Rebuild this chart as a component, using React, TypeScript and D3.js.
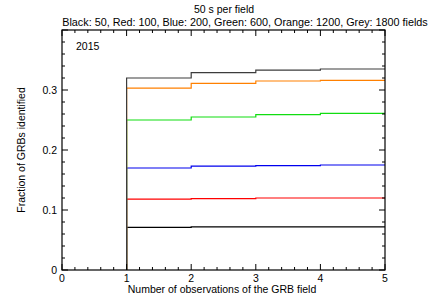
import * as d3 from "d3";

const steps = [1, 2, 3, 4, 5];
const blackVals = [0.071, 0.072, 0.072, 0.072];
const redVals = [0.118, 0.119, 0.120, 0.120];
const blueVals = [0.170, 0.173, 0.174, 0.175];
const greenVals = [0.250, 0.255, 0.259, 0.261];
const orangeVals = [0.303, 0.311, 0.315, 0.316];
const greyVals = [0.320, 0.329, 0.333, 0.335];

const series = [
    { name: "Black", values: blackVals, color: "#000000" },
    { name: "Red", values: redVals, color: "#ff0000" },
    { name: "Blue", values: blueVals, color: "#0000ee" },
    { name: "Green", values: greenVals, color: "#11dd11" },
    { name: "Orange", values: orangeVals, color: "#ff8000" },
    { name: "Grey", values: greyVals, color: "#3c3c3c" },
];

const xTicks = [0, 1, 2, 3, 4, 5];
const yTicks = [0, 0.1, 0.2, 0.3];

const App = () => {
    const width = 442;
    const height = 295;
    const marginLeft = 62;
    const marginRight = 57;
    const marginTop = 30;
    const marginBottom = 25;
    const fs = 10.5;

    const x = d3.scaleLinear().domain([0, 5]).range([marginLeft, width - marginRight]);
    const y = d3.scaleLinear().domain([0, 0.4]).range([height - marginBottom, marginTop]);

    const line = d3.line<[number, number]>().x(d => x(d[0])).y(d => y(d[1])).curve(d3.curveStepAfter);

    const pts = (vals: number[]) => {
        const p: [number, number][] = [[steps[0], 0]];
        vals.forEach((v, i) => p.push([steps[i], v]));
        p.push([steps[steps.length - 1], vals[vals.length - 1]]);
        return p;
    };

    const xMinor = d3.range(0, 5.0001, 0.2);
    const yMinor = d3.range(0, 0.4001, 0.02);
    const x0 = x.range()[0], x1 = x.range()[1];
    const y0 = y.range()[0], y1 = y.range()[1];
    const isMajorX = (v: number) => Math.abs(v - Math.round(v)) < 1e-6;
    const isMajorY = (v: number) => Math.abs(v * 10 - Math.round(v * 10)) < 1e-6;

    return (
        <svg width={width} height={height} style={{ position: "absolute", left: 0, top: 0 }}
            fontFamily="'Liberation Sans', Arial, sans-serif">
            <rect width={width} height={height} fill="#fff" />
            <text x={224} y={13} textAnchor="middle" fontSize={fs}>50 s per field</text>
            <text x={245} y={26} textAnchor="middle" fontSize={10.8}>Black: 50, Red: 100, Blue: 200, Green: 600, Orange: 1200, Grey: 1800 fields</text>
            {series.map(s => (
                <path key={s.name} d={line(pts(s.values)) ?? ""} fill="none" stroke={s.color} strokeWidth={1.2} />
            ))}
            <rect x={x0} y={y1} width={x1 - x0} height={y0 - y1} fill="none" stroke="#000" strokeWidth={1.2} />
            {xMinor.map((v, i) => {
                const len = isMajorX(v) ? 6 : 3;
                return (
                    <g key={i}>
                        <line x1={x(v)} x2={x(v)} y1={y0} y2={y0 - len} stroke="#000" />
                        <line x1={x(v)} x2={x(v)} y1={y1} y2={y1 + len} stroke="#000" />
                    </g>
                );
            })}
            {yMinor.map((v, i) => {
                const len = isMajorY(v) ? 6 : 3;
                return (
                    <g key={i}>
                        <line x1={x0} x2={x0 + len} y1={y(v)} y2={y(v)} stroke="#000" />
                        <line x1={x1} x2={x1 - len} y1={y(v)} y2={y(v)} stroke="#000" />
                    </g>
                );
            })}
            {xTicks.map(v => (
                <text key={v} x={x(v)} y={y0 + 12} textAnchor="middle" fontSize={fs}>{v}</text>
            ))}
            {yTicks.map(v => (
                <text key={v} x={x0 - 5} y={y(v) + 4} textAnchor="end" fontSize={fs}>{v === 0 ? "0" : d3.format(".1f")(v)}</text>
            ))}
            <text x={222} y={y0 + 23} textAnchor="middle" fontSize={fs}>Number of observations of the GRB field</text>
            <text transform={`translate(25,${(y0 + y1) / 2}) rotate(-90)`} textAnchor="middle" fontSize={fs}>Fraction of GRBs identified</text>
            <text x={x0 + 14} y={y1 + 20} fontSize={fs}>2015</text>
        </svg>
    );
};

export default App;
